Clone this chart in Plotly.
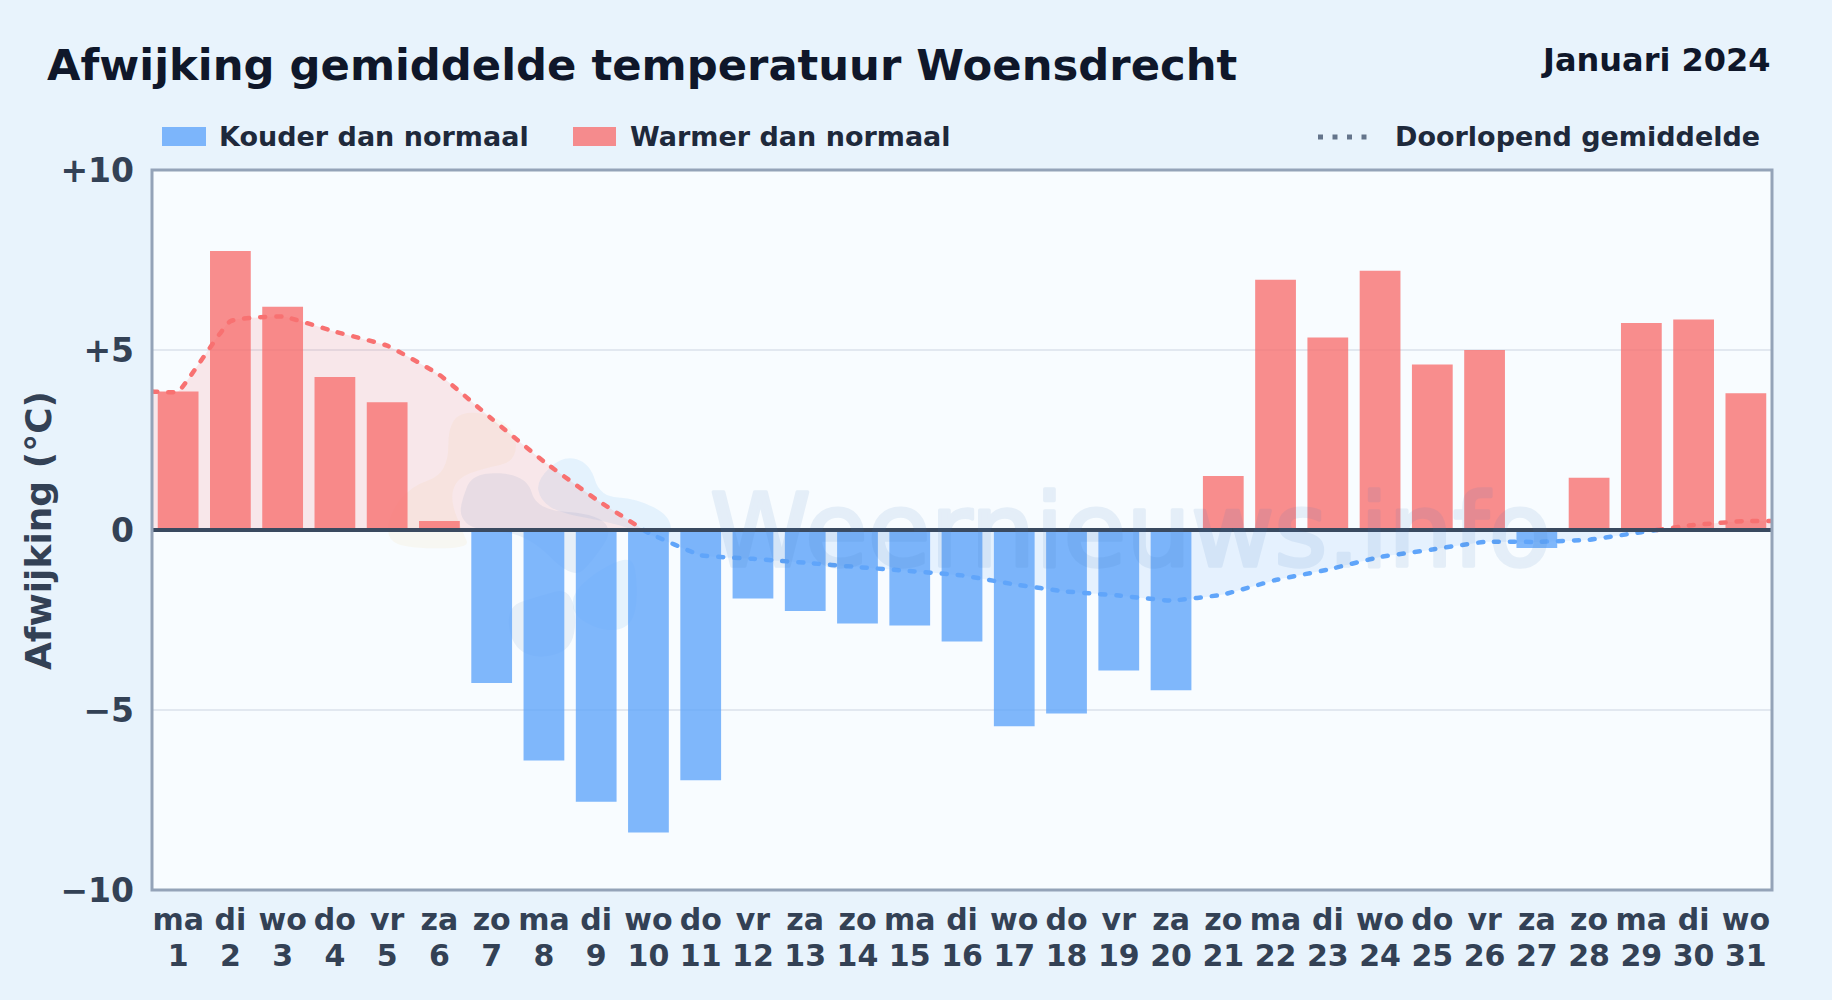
import plotly.graph_objects as go

WIDTH, HEIGHT = 1832, 1000
L, R, T, B = 152, 1772, 170, 890

days = list(range(1, 32))
weekdays = ["ma","di","wo","do","vr","za","zo"] * 4 + ["ma","di","wo"]
values = [3.85, 7.75, 6.2, 4.25, 3.55, 0.25, -4.25, -6.4, -7.55, -8.4, -6.95,
          -1.9, -2.25, -2.6, -2.65, -3.1, -5.45, -5.1, -3.9, -4.45, 1.5, 6.95,
          5.35, 7.2, 4.6, 5.0, -0.5, 1.45, 5.75, 5.85, 3.8]
warm_x = [0.5, 1, 2, 3, 4, 5, 6, 7, 8, 9, 9.91]
warm_y = [3.85, 3.85, 5.8, 5.93, 5.51, 5.12, 4.31, 3.09, 1.9, 0.85, 0]
cool_x = [9.91, 10, 11, 12, 13, 14, 15, 16, 17, 18, 19, 20, 21, 22, 23, 24, 25, 26, 27, 28, 29, 29.3]
cool_y = [0, -0.08, -0.7, -0.8, -0.91, -1.03, -1.14, -1.26, -1.51, -1.71, -1.82, -1.96,
          -1.79, -1.39, -1.10, -0.75, -0.54, -0.33, -0.33, -0.27, -0.06, 0]
warm2_x = [29.3, 30, 31, 31.5]
warm2_y = [0, 0.14, 0.25, 0.25]
y_ticks = [-10, -5, 0, 5, 10]
y_labels = ["−10", "−5", "0", "+5", "+10"]

RED, BLUE = "#f87171", "#60a5fa"
FONT = "DejaVu Sans"

def px(x): return (x - L) / (R - L)
def py(y): return (B - y) / (B - T)

def blob(points, color):
    """Watermark logo blob: smooth closed path from crop coordinates (3x, offset 360,400)."""
    pts = [(360 + a / 3, 400 + b / 3) for a, b in points]
    pts = [(px(a), py(b)) for a, b in pts]
    n = len(pts)
    mid = lambda p, q: ((p[0] + q[0]) / 2, (p[1] + q[1]) / 2)
    start = mid(pts[-1], pts[0])
    d = f"M{start[0]},{start[1]}"
    for i in range(n):
        e = mid(pts[i], pts[(i + 1) % n])
        d += f" Q{pts[i][0]},{pts[i][1]} {e[0]},{e[1]}"
    return dict(type="path", xref="paper", yref="paper", path=d + " Z", fillcolor=color,
                line_width=0, layer="below")

fig = go.Figure()

for xs, ys, col, fill in [(warm_x, warm_y, RED, "rgba(248,113,113,0.15)"),
                          (cool_x, cool_y, BLUE, "rgba(96,165,250,0.12)"),
                          (warm2_x, warm2_y, RED, "rgba(248,113,113,0.15)")]:
    fig.add_trace(go.Scatter(x=xs, y=ys, mode="lines", fill="tozeroy", fillcolor=fill,
                             line=dict(color=col, width=4.5, dash="5px,11px", shape="spline", smoothing=0.35),
                             showlegend=False, hoverinfo="skip"))

fig.add_trace(go.Bar(x=days, y=values, width=0.78,
                     marker=dict(color=[RED if v >= 0 else BLUE for v in values],
                                 opacity=0.8, line_width=0),
                     showlegend=False))
fig.add_trace(go.Scatter(x=days, y=[0] * len(days), xaxis="x2", mode="none",
                         showlegend=False, hoverinfo="skip"))

shapes = [
    blob([(265, 55), (350, 30), (465, 80), (470, 185), (370, 205), (290, 235), (270, 300),
          (310, 400), (330, 445), (150, 445), (80, 420), (90, 340), (150, 260), (265, 220)],
         "rgba(240,190,90,0.08)"),
    blob([(305, 300), (340, 215), (500, 225), (530, 330), (700, 340), (760, 390), (700, 480),
          (640, 540), (500, 400), (340, 390), (300, 350)], "rgba(60,110,180,0.09)"),
    blob([(440, 620), (530, 590), (640, 560), (650, 740), (540, 780), (455, 740)],
         "rgba(60,110,180,0.09)"),
    blob([(530, 240), (610, 165), (690, 190), (720, 290), (830, 295), (935, 350), (930, 430),
          (770, 370), (600, 340), (540, 300)], "rgba(56,160,240,0.10)"),
    blob([(630, 590), (700, 520), (800, 470), (830, 500), (830, 660), (760, 700), (650, 660)],
         "rgba(56,160,240,0.10)"),
    dict(type="line", xref="paper", yref="y", x0=0, x1=1, y0=0, y1=0,
         line=dict(color="#3a4a60", width=4), layer="above"),
    dict(type="rect", xref="paper", yref="paper", x0=0, x1=1, y0=0, y1=1,
         line=dict(color="#94a3b8", width=3), layer="above"),
    dict(type="rect", xref="paper", yref="paper", x0=px(162), x1=px(206), y0=py(127), y1=py(146),
         fillcolor="rgba(96,165,250,0.8)", line_width=0),
    dict(type="rect", xref="paper", yref="paper", x0=px(573), x1=px(616), y0=py(127), y1=py(146),
         fillcolor="rgba(248,113,113,0.8)", line_width=0),
]
for sx in (1318, 1332.5, 1347, 1361.5):
    shapes.append(dict(type="rect", xref="paper", yref="paper", x0=px(sx), x1=px(sx + 5),
                       y0=py(134.5), y1=py(139.5), fillcolor="#64748b", line_width=0))

def note(text, x, y, size, color, xanchor="left", yanchor="middle", weight="bold", **kw):
    return dict(text=text, xref="paper", yref="paper", x=px(x), y=py(y), showarrow=False,
                xanchor=xanchor, yanchor=yanchor,
                font=dict(family=FONT, size=size, color=color, weight=weight), **kw)

annotations = [
    note("Afwijking gemiddelde temperatuur Woensdrecht", 44.5, 65, 43.3, "#0f172a"),
    note("Januari 2024", 1773, 60, 32, "#0f172a", xanchor="right"),
    note("Kouder dan normaal", 217, 137, 27, "#1e293b"),
    note("Warmer dan normaal", 628, 137, 27, "#1e293b"),
    note("Doorlopend gemiddelde", 1393, 137, 27, "#1e293b"),
    note("Afwijking (°C)", 38, 530, 36, "#334155", xanchor="center", textangle=-90),
    note("Weernieuws.info", 1130, 530, 102, "#3c78be", xanchor="center", weight="normal", opacity=0.10),
]

fig.update_layout(
    width=WIDTH, height=HEIGHT,
    margin=dict(l=L, r=WIDTH - R, t=T, b=HEIGHT - B, autoexpand=False),
    paper_bgcolor="#e8f3fc", plot_bgcolor="#f8fcff",
    shapes=shapes, annotations=annotations, bargap=0.22, hovermode=False,
    xaxis=dict(range=[0.5, 31.5], tickmode="array", tickvals=days, ticktext=weekdays,
               tickangle=0, showgrid=False, zeroline=False, ticks="", ticklabelstandoff=9,
               tickfont=dict(family=FONT, size=30, color="#334155", weight="bold")),
    xaxis2=dict(range=[0.5, 31.5], overlaying="x", side="bottom", anchor="y",
                tickmode="array", tickvals=days, ticktext=[str(d) for d in days],
                tickangle=0, showgrid=False, zeroline=False, ticks="", ticklabelstandoff=45,
                tickfont=dict(family=FONT, size=30, color="#334155", weight="bold")),
    yaxis=dict(range=[-10, 10], tickmode="array", tickvals=y_ticks, ticktext=y_labels,
               showgrid=True, gridcolor="#e2e8f0", gridwidth=2, zeroline=False, ticks="",
               ticklabelstandoff=17,
               tickfont=dict(family=FONT, size=33, color="#334155", weight="bold")),
)

fig.write_html("out.html", config={"displayModeBar": False},
               post_script="document.body.style.margin='0';document.body.style.overflow='hidden';"
                           "document.body.style.background='#e8f3fc';"
                           "document.querySelectorAll('.js-line').forEach(e=>e.style.strokeLinecap='round');"
                           "document.querySelectorAll('.annotation-text').forEach(e=>{if(e.textContent==='Weernieuws.info'){"
                           "e.style.stroke='#3c78be';e.style.strokeWidth='3.5px';e.style.strokeLinejoin='round';}});")
